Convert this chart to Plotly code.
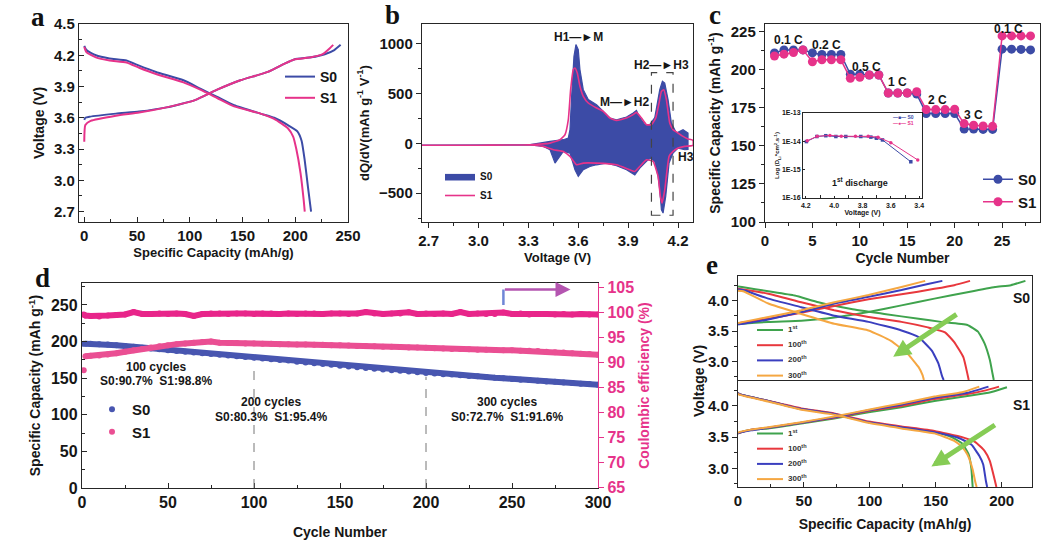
import plotly.graph_objects as go

W, H = 1053, 541
def px(x): return x / W
def py(y): return 1 - y / H

FONT = "Liberation Sans, Arial, sans-serif"
SERIF = "Liberation Serif, Times New Roman, serif"
BLUE = '#3C4BA6'
PINK = '#E6338A'
AXC = '#262626'
TXT = '#161616'
GREEN = '#3FA34D'; RED = '#E8383D'; BLUE2 = '#3A3FBF'; ORANGE = '#F5A742'

# ---------------- panel a : charge/discharge (capacity mAh/g, voltage V)
A_S0_CHG = [(0,3.58),(1,3.60),(5,3.61),(30,3.64),(52,3.66),(78,3.70),(105,3.77),(126,3.87),(148,3.96),(174,4.04),(190,4.12),(199,4.16),(215,4.18),(228,4.21),(237,4.25),(243,4.30)]
A_S1_CHG = [(0,3.37),(1,3.53),(6,3.57),(30,3.62),(52,3.65),(78,3.70),(105,3.77),(126,3.87),(148,3.96),(174,4.04),(190,4.12),(199,4.16),(215,4.18),(226,4.21),(232,4.26),(236,4.30)]
A_S0_DIS = [(0,4.29),(2,4.25),(11,4.20),(24,4.17),(40,4.15),(52,4.10),(68,4.04),(94,3.96),(110,3.88),(126,3.80),(142,3.72),(167,3.64),(180,3.60),(193,3.53),(202,3.47),(206,3.38),(209,3.19),(212,2.94),(215,2.70)]
A_S1_DIS = [(0,4.28),(2,4.23),(11,4.18),(24,4.15),(40,4.13),(52,4.08),(68,4.02),(94,3.94),(110,3.87),(126,3.79),(142,3.71),(167,3.64),(180,3.59),(193,3.50),(198,3.42),(201,3.30),(205,3.07),(208,2.81),(209,2.70)]

# ---------------- panel b : dQ/dV (voltage V, dQ/dV)
B_S0_CHG = [(2.66,-18),(3.0,-18),(3.31,-13),(3.43,20),(3.51,37),(3.54,54),(3.55,138),(3.56,473),(3.574,876),(3.586,993),(3.60,943),(3.61,742),(3.63,540),(3.66,440),(3.71,389),(3.74,339),(3.79,255),(3.83,238),(3.89,265),(3.93,305),(3.95,332),(3.97,259),(4.00,188),(4.03,188),(4.06,259),(4.09,540),(4.106,624),(4.12,607),(4.14,440),(4.16,205),(4.19,104),(4.23,138),(4.26,104)]
B_S0_DIS = [(4.26,-60),(4.24,-64),(4.20,-47),(4.17,-97),(4.146,-198),(4.126,-534),(4.11,-700),(4.10,-668),(4.09,-467),(4.08,-332),(4.06,-181),(4.034,-148),(4.01,-181),(3.97,-248),(3.94,-316),(3.89,-265),(3.83,-225),(3.77,-198),(3.71,-215),(3.67,-232),(3.63,-265),(3.60,-332),(3.58,-265),(3.55,-97),(3.51,-81),(3.48,-148),(3.46,-198),(3.43,-64),(3.39,-30),(3.31,-16),(3.0,-18),(2.66,-18)]
B_S1_CHG = [(2.66,-18),(3.0,-18),(3.31,-13),(3.43,3),(3.49,37),(3.52,87),(3.54,238),(3.554,540),(3.57,742),(3.58,758),(3.594,708),(3.61,574),(3.63,473),(3.66,406),(3.71,356),(3.75,322),(3.79,255),(3.83,231),(3.89,255),(3.93,289),(3.95,312),(3.98,255),(4.01,188),(4.04,188),(4.066,255),(4.086,406),(4.10,523),(4.114,540),(4.13,440),(4.15,205),(4.17,138),(4.20,104),(4.23,70),(4.26,45),(4.29,30)]
B_S1_DIS = [(4.29,-20),(4.24,-30),(4.20,-47),(4.17,-81),(4.146,-131),(4.12,-467),(4.104,-601),(4.094,-534),(4.08,-332),(4.05,-181),(4.01,-165),(3.97,-232),(3.94,-282),(3.91,-265),(3.83,-215),(3.71,-198),(3.63,-198),(3.59,-215),(3.55,-131),(3.51,-81),(3.45,-64),(3.39,-30),(3.31,-16),(3.0,-18),(2.66,-18)]

# ---------------- panel c : rate capability
C_CYCLES = list(range(1, 29))
C_S0 = [211,213,213,213,211,210,210,210,197,197,196.5,196.5,184.7,184.7,184.7,184,171.2,171.2,171.2,171.2,161,161,160.8,160.8,213.5,213.5,213.3,213]
C_S1 = [209,210.2,211.3,213,205.2,206.5,206.5,206.5,194.3,195,196.5,196.5,184.7,184.7,184.7,185.5,173.8,173.8,173.8,174,164.6,163.5,163,162.8,222.2,222.2,222.2,222.2]
C_RATE_LABELS = ['0.1 C','0.2 C','0.5 C','1 C','2 C','3 C','0.1 C']
C_RATE_X = [2.5, 6.5, 10.7, 14, 18.2, 22, 25.7]
C_RATE_Y = [219.6, 216, 202, 192, 180, 170, 226.5]
# inset : Li diffusion coefficient vs voltage (1st discharge)
I_S0_V = [4.196,4.122,4.059,3.988,3.918,3.812,3.741,3.702,3.659,3.459]
I_S0_D = [9.8e-15,1.48e-14,1.58e-14,1.48e-14,1.48e-14,1.48e-14,1.41e-14,1.29e-14,1.12e-14,1.9e-15]
I_S1_V = [4.19,4.12,4.03,3.95,3.85,3.76,3.69,3.60,3.41]
I_S1_D = [1.05e-14,1.5e-14,1.62e-14,1.52e-14,1.5e-14,1.5e-14,1.4e-14,9e-15,2.2e-15]

# ---------------- panel d : long cycling
D_CYCLES = [1, 2] + list(range(5, 301, 5))
D_S0_CAP = [197,197,197,196.5,196,195,194,193,191.5,190.5,
            189.5,188,187,186,185,184,183,182,181,180,
            179,178,177,176,175,174,172.5,171.5,170.5,169.5,
            168.5,167,166,165,164,163,162,161,160,159,
            158,157,156.5,155.5,155,154,153,152.5,151.5,150.5,
            150,149,148,147.5,146.5,145.5,145,144,143.5,142.5,
            142,141]
D_S1_CAP = [161,180,180.5,181,182.5,184,186,188,190,192,
            193.5,195,196.5,197.5,198.5,199.5,200,198.5,198,198,
            197.5,197.5,197,197,196.5,196.5,196,196,195.5,195.5,
            195,195,194.5,194,194,193.5,193,193,192.5,192,
            192,191.5,191,190.5,190,190,189.5,189,189,188.5,
            188,188,187.5,187.5,187,186,185.5,185,184,183.5,
            183,182]
D_S1_CE = [99.5,99.3,99.2,99.1,99.3,99.4,99.5,100.0,99.6,99.6,
           99.7,99.6,99.7,99.6,99.2,99.6,99.7,99.7,99.6,99.7,
           99.7,99.6,99.7,99.7,99.6,99.7,99.6,99.7,99.7,99.6,
           99.7,99.7,99.6,99.7,100.0,99.7,99.6,99.7,99.7,99.95,
           99.6,99.7,99.6,99.7,99.6,100.0,99.6,99.7,99.6,99.6,
           99.9,99.6,99.7,99.5,99.6,99.6,99.5,99.6,99.5,99.6,
           99.5,99.5]

# ---------------- panel e : charge/discharge at cycles 1,100,200,300
E_CYCLE_NAMES = ['1<sup>st</sup>', '100<sup>th</sup>', '200<sup>th</sup>', '300<sup>th</sup>']
E_COLORS = [GREEN, RED, BLUE2, ORANGE]
E_S0_CHG = [
    [(0,3.61),(3,3.62),(23,3.65),(48,3.67),(73,3.72),(99,3.81),(124,3.92),(149,4.03),(175,4.14),(195,4.22),(207,4.25),(218,4.32)],
    [(0,3.62),(3,3.64),(23,3.70),(48,3.80),(73,3.91),(99,4.02),(124,4.10),(149,4.19),(164,4.25),(176,4.32)],
    [(0,3.61),(4,3.62),(23,3.69),(48,3.81),(73,3.95),(99,4.06),(124,4.17),(144,4.27),(155,4.32)],
    [(0,3.63),(4,3.65),(23,3.73),(48,3.84),(73,3.97),(99,4.09),(124,4.22),(142,4.32)],
]
E_S0_DIS = [
    [(0,4.23),(3,4.22),(23,4.15),(43,4.08),(61,3.97),(86,3.86),(111,3.78),(137,3.70),(154,3.65),(174,3.60),(182,3.49),(187,3.30),(191,3.03),(193,2.81),(194,2.70)],
    [(0,4.19),(4,4.18),(23,4.11),(48,3.97),(73,3.84),(99,3.73),(124,3.65),(144,3.56),(157,3.48),(164,3.32),(171,3.07),(174,2.80),(175,2.70)],
    [(0,4.18),(4,4.17),(23,4.03),(48,3.89),(73,3.75),(99,3.65),(124,3.51),(137,3.40),(147,3.18),(152,2.97),(155,2.75),(156,2.70)],
    [(0,4.16),(4,4.15),(23,3.95),(48,3.78),(73,3.62),(99,3.51),(116,3.34),(129,3.12),(137,2.91),(140,2.78),(141,2.70)],
]
E_S1_CHG = [
    [(0,3.56),(1,3.57),(10,3.62),(23,3.64),(48,3.72),(73,3.80),(99,3.90),(124,3.98),(149,4.08),(174,4.16),(190,4.21),(204,4.30)],
    [(0,3.56),(1,3.57),(10,3.62),(23,3.65),(48,3.73),(73,3.81),(99,3.92),(124,4.00),(149,4.11),(174,4.19),(188,4.25),(198,4.31)],
    [(0,3.56),(1,3.57),(10,3.61),(23,3.65),(48,3.73),(73,3.82),(99,3.93),(124,4.02),(149,4.13),(174,4.21),(190,4.31)],
    [(0,3.57),(1,3.58),(10,3.62),(23,3.66),(48,3.74),(73,3.83),(99,3.94),(124,4.04),(149,4.15),(170,4.22),(183,4.31)],
]
E_S1_DIS = [
    [(0,4.21),(1,4.19),(23,4.08),(48,3.95),(73,3.87),(99,3.74),(124,3.66),(149,3.58),(162,3.50),(170,3.40),(175,3.22),(177,3.00),(178,2.70)],
    [(0,4.21),(1,4.19),(23,4.08),(48,3.96),(73,3.88),(99,3.75),(124,3.67),(149,3.60),(170,3.50),(180,3.42),(187,3.28),(191,3.12),(195,2.79),(196,2.70)],
    [(0,4.21),(1,4.19),(23,4.08),(48,3.95),(73,3.87),(99,3.74),(124,3.66),(149,3.58),(167,3.49),(177,3.38),(183,3.20),(186,3.06),(188,2.80),(189,2.70)],
    [(0,4.20),(1,4.18),(23,4.07),(48,3.94),(73,3.86),(99,3.73),(124,3.64),(149,3.56),(164,3.44),(170,3.34),(174,3.22),(178,2.98),(180,2.78),(181,2.70)],
]


def xs(pts): return [p[0] for p in pts]
def ys(pts): return [p[1] for p in pts]


fig = go.Figure()

# ---- a
for name, chg, dis, col in [('S0', A_S0_CHG, A_S0_DIS, BLUE), ('S1', A_S1_CHG, A_S1_DIS, PINK)]:
    fig.add_trace(go.Scatter(x=xs(chg), y=ys(chg), mode='lines', name=name, legend='legend',
                             legendgroup='a' + name, line=dict(color=col, width=2, shape='spline', smoothing=0.5),
                             xaxis='x', yaxis='y'))
    fig.add_trace(go.Scatter(x=xs(dis), y=ys(dis), mode='lines', name=name, showlegend=False,
                             legendgroup='a' + name, line=dict(color=col, width=2, shape='spline', smoothing=0.5),
                             xaxis='x', yaxis='y'))

# ---- b
fig.add_trace(go.Scatter(x=xs(B_S0_CHG) + xs(B_S0_DIS), y=ys(B_S0_CHG) + ys(B_S0_DIS), mode='lines',
                         fill='toself', fillcolor=BLUE, line=dict(color=BLUE, width=1.2),
                         name='S0', legend='legend2', xaxis='x2', yaxis='y2'))
fig.add_trace(go.Scatter(x=xs(B_S1_CHG) + xs(B_S1_DIS), y=ys(B_S1_CHG) + ys(B_S1_DIS), mode='lines',
                         line=dict(color=PINK, width=1.6, shape='spline', smoothing=0.4),
                         name='S1', legend='legend2', xaxis='x2', yaxis='y2'))

# ---- c
fig.add_trace(go.Scatter(x=C_CYCLES, y=C_S0, mode='lines+markers', name='S0', legend='legend3',
                         line=dict(color=BLUE, width=1.5), marker=dict(color=BLUE, size=9),
                         xaxis='x3', yaxis='y3'))
fig.add_trace(go.Scatter(x=C_CYCLES, y=C_S1, mode='lines+markers', name='S1', legend='legend3',
                         line=dict(color=PINK, width=1.5), marker=dict(color=PINK, size=9),
                         xaxis='x3', yaxis='y3'))
fig.add_trace(go.Scatter(x=I_S0_V, y=I_S0_D, mode='lines+markers', showlegend=False, name='S0',
                         line=dict(color=BLUE, width=1), marker=dict(color=BLUE, size=3.5, symbol='square'),
                         xaxis='x4', yaxis='y4'))
fig.add_trace(go.Scatter(x=I_S1_V, y=I_S1_D, mode='lines+markers', showlegend=False, name='S1',
                         line=dict(color=PINK, width=1), marker=dict(color=PINK, size=3.5),
                         xaxis='x4', yaxis='y4'))

# ---- d
fig.add_trace(go.Scatter(x=D_CYCLES[1:], y=D_S0_CAP[1:], mode='lines', showlegend=False,
                         line=dict(color='#4856B0', width=6), xaxis='x5', yaxis='y5'))
fig.add_trace(go.Scatter(x=D_CYCLES, y=D_S0_CAP, mode='markers', name='S0', legend='legend4',
                         marker=dict(color='#4856B0', size=6), xaxis='x5', yaxis='y5'))
fig.add_trace(go.Scatter(x=D_CYCLES[1:], y=D_S1_CAP[1:], mode='lines', showlegend=False,
                         line=dict(color='#EA4F93', width=6), xaxis='x5', yaxis='y5'))
fig.add_trace(go.Scatter(x=D_CYCLES, y=D_S1_CAP, mode='markers', name='S1', legend='legend4',
                         marker=dict(color='#EA4F93', size=6), xaxis='x5', yaxis='y5'))
fig.add_trace(go.Scatter(x=D_CYCLES, y=D_S1_CE, mode='lines+markers', showlegend=False, name='CE',
                         line=dict(color='#E8258A', width=6), marker=dict(color='#E8258A', size=6),
                         xaxis='x5', yaxis='y6'))

# ---- e
for panel, chg_all, dis_all, xa, ya in [('S0', E_S0_CHG, E_S0_DIS, 'x6', 'y7'), ('S1', E_S1_CHG, E_S1_DIS, 'x7', 'y8')]:
    for i in range(4):
        for pts in (chg_all[i], dis_all[i]):
            fig.add_trace(go.Scatter(x=xs(pts), y=ys(pts), mode='lines', showlegend=False,
                                     name=panel + ' ' + E_CYCLE_NAMES[i],
                                     line=dict(color=E_COLORS[i], width=2, shape='spline', smoothing=0.4),
                                     xaxis=xa, yaxis=ya))


def tf(size=15, color=TXT):
    return dict(family=FONT, size=size, color=color, weight='bold')


def axis(domain, anchor, rng, dtick, mdtick, ticks='inside', title=None, tsize=15, standoff=6, title_size=14, **kw):
    d = dict(domain=domain, anchor=anchor, range=rng, dtick=dtick, showline=True, linecolor=AXC,
             linewidth=1.4, mirror=True, ticks=ticks, ticklen=5, tickwidth=1.3, tickcolor=AXC,
             showgrid=False, zeroline=False, tickfont=tf(tsize), automargin=False,
             minor=dict(dtick=mdtick, ticks=ticks, ticklen=3, tickwidth=1, tickcolor=AXC, showgrid=False))
    if title is not None:
        d['title'] = dict(text=title, font=tf(title_size), standoff=standoff)
    d.update(kw)
    return d


lay = dict(
    width=W, height=H, margin=dict(l=0, r=0, t=0, b=0, autoexpand=False), paper_bgcolor='white', plot_bgcolor='white',
    font=dict(family=FONT, color=TXT),
    xaxis=axis([px(79), px(348)], 'y', [-5, 250], 50, 25, title='Specific Capacity (mAh/g)', standoff=4, title_size=13),
    yaxis=axis([py(222), py(24)], 'x', [2.6, 4.5], 0.3, 0.15, title='Voltage (V)', tick0=2.7, tickformat='.1f'),
    xaxis2=axis([px(422), px(693)], 'y2', [2.66, 4.29], 0.3, 0.15, ticks='outside', title='Voltage (V)', tick0=2.7, tickformat='.1f', standoff=4, title_size=13),
    yaxis2=axis([py(222), py(24)], 'x2', [-790, 1200], 500, 250, ticks='outside',
                title='dQ/dV(mAh g<sup>-1</sup> V<sup>-1</sup>)', title_size=13),
    xaxis3=axis([px(765), px(1040)], 'y3', [0, 29], 5, 2.5, ticks='outside', title='Cycle Number', standoff=4),
    yaxis3=axis([py(222), py(24)], 'x3', [100, 230], 25, 12.5, ticks='outside',
                title='Specific Capacity (mAh g<sup>-1</sup>)'),
    xaxis4=axis([px(803), px(922)], 'y4', [4.22, 3.38], 0.2, 0.1, tsize=7, title='Voltage (V)', standoff=1,
                title_size=7, tickformat='.1f', ticklen=2),
    yaxis4=dict(domain=[py(198), py(113)], anchor='x4', type='log', range=[-16, -13], showline=True,
                linecolor=AXC, linewidth=1, mirror=True, ticks='inside', ticklen=2, tickcolor=AXC,
                showgrid=False, zeroline=False, tickfont=tf(7), automargin=False,
                tickvals=[1e-16, 1e-15, 1e-14, 1e-13], ticktext=['1E-16', '1E-15', '1E-14', '1E-13'],
                title=dict(text='Log (D<sub>Li</sub>*cm<sup>2</sup>.s<sup>-1</sup>)', font=tf(6), standoff=1)),
    xaxis5=axis([px(82), px(598)], 'y5', [0, 300], 50, 25, tsize=16, title='Cycle Number', standoff=16),
    yaxis5=axis([py(488), py(283)], 'x5', [0, 280], 50, 25, tsize=16, mirror=False,
                title='Specific Capacity (mAh g<sup>-1</sup>)'),
    yaxis6=dict(overlaying='y5', side='right', anchor='x5', range=[64.8, 105.8], dtick=5, tick0=65,
                showline=True, linecolor=PINK, linewidth=1.4, ticks='outside', ticklen=5, tickcolor=PINK,
                showgrid=False, zeroline=False, tickfont=tf(16, PINK), automargin=False,
                title=dict(text='Coulombic efficiency (%)', font=tf(14, PINK), standoff=6)),
    xaxis6=axis([px(738), px(1032)], 'y7', [0, 223], 50, 25, showticklabels=False, ticks=''),
    yaxis7=axis([py(380), py(276)], 'x6', [2.7, 4.4], 0.5, 0.25, ticks='outside', tickformat='.1f'),
    xaxis7=axis([px(738), px(1032)], 'y8', [0, 223], 50, 25, title='Specific Capacity (mAh/g)', standoff=10),
    yaxis8=axis([py(487), py(381)], 'x7', [2.7, 4.4], 0.5, 0.25, ticks='outside', tickformat='.1f'),
    legend=dict(x=px(280), y=py(61), xanchor='left', yanchor='top', bgcolor='rgba(0,0,0,0)', font=tf(14),
                itemwidth=30, tracegroupgap=0),
    legend2=dict(x=px(440), y=py(162), xanchor='left', yanchor='top', bgcolor='rgba(0,0,0,0)', font=tf(10),
                 itemwidth=30),
    legend3=dict(x=px(978), y=py(163), xanchor='left', yanchor='top', bgcolor='rgba(0,0,0,0)', font=tf(15),
                 itemwidth=30),
    legend4=dict(x=px(92), y=py(393), xanchor='left', yanchor='top', bgcolor='rgba(0,0,0,0)', font=tf(15),
                 itemwidth=30),
)
lay['xaxis6']['minor'] = dict(ticks='')
fig.update_layout(**lay)

ann = []


def note(text, x, y, xref='paper', yref='paper', font=None, xanchor='center', **kw):
    ann.append(dict(text=text, x=x, y=y, xref=xref, yref=yref, showarrow=False, xanchor=xanchor,
                    yanchor='middle', font=font or tf(12), **kw))


# panel labels
for lab, x, y in [('a', 38, 17), ('b', 392, 15), ('c', 715, 15), ('d', 42, 278), ('e', 712, 265)]:
    note(lab, px(x), py(y), font=dict(family=SERIF, size=27, color='#111', weight='bold'))
# b labels
for t, x, y in [('H1\u2014\u25BAM', 3.60, 1065), ('M\u2014\u25BAH2', 3.88, 420), ('H2\u2014\u25BAH3', 4.10, 790), ('H3', 4.245, -135)]:
    note(t, x, y, 'x2', 'y2')
# c rate labels
for t, x, y in zip(C_RATE_LABELS, C_RATE_X, C_RATE_Y):
    note(t, x, y, 'x3', 'y3')
note('1<sup>st</sup> discharge', 3.82, -15.45, 'x4', 'y4', font=tf(9))
note('\u2014\u25A0\u2014 S0', px(916), py(117), font=dict(family=FONT, size=5, color=BLUE, weight='bold'), xanchor='right')
note('\u2014\u25CF\u2014 S1', px(916), py(123), font=dict(family=FONT, size=5, color=PINK, weight='bold'), xanchor='right')
# d texts
for t, x, y in [('100 cycles', 43, 165), ('S0:90.7%  S1:98.8%', 43, 146),
                ('200 cycles', 110, 118), ('S0:80.3%  S1:95.4%', 110, 97),
                ('300 cycles', 247, 118), ('S0:72.7%  S1:91.6%', 247, 97)]:
    note(t, x, y, 'x5', 'y5')
ann.append(dict(text='', x=284, y=104.5, ax=245, ay=104.5, xref='x5', yref='y6', axref='x5', ayref='y6',
                showarrow=True, arrowhead=2, arrowsize=1.2, arrowwidth=2.5, arrowcolor='#B455B0'))
# e texts
note('S0', px(1021), py(298), font=tf(14))
note('S1', px(1021), py(405), font=tf(14))
note('Voltage (V)', px(699), py(381), font=tf(14), textangle=-90)
ann.append(dict(text='', x=117.7, y=3.08, ax=166.9, ay=3.79, xref='x6', yref='y7', axref='x6', ayref='y7',
                showarrow=True, arrowhead=2, arrowsize=0.7, arrowwidth=5, arrowcolor='#86CC55'))
ann.append(dict(text='', x=146.7, y=3.03, ax=196, ay=3.71, xref='x7', yref='y8', axref='x7', ayref='y8',
                showarrow=True, arrowhead=2, arrowsize=0.7, arrowwidth=5, arrowcolor='#86CC55'))
shapes = []
# manual legends for e
for base_y in (330, 433.5):
    for i, (nm, col) in enumerate(zip(E_CYCLE_NAMES, E_COLORS)):
        yy = base_y + i * 15.2
        shapes.append(dict(type='line', xref='paper', yref='paper', x0=px(757), x1=px(783), y0=py(yy), y1=py(yy),
                           line=dict(color=col, width=2)))
        note(nm, px(786), py(yy - 1), font=tf(8, '#333'), xanchor='left')
# dashed box in b
shapes.append(dict(type='rect', xref='x2', yref='y2', x0=4.04, x1=4.17, y0=-722, y1=711,
                   line=dict(color='#444', width=1.2, dash='dash')))
# dashed markers in d
shapes.append(dict(type='line', xref='x5', yref='y5', x0=100, x1=100, y0=0, y1=172, line=dict(color='#777', width=1, dash='dash')))
shapes.append(dict(type='line', xref='x5', yref='y5', x0=200, x1=200, y0=0, y1=152, line=dict(color='#777', width=1, dash='dash')))
shapes.append(dict(type='line', xref='x5', yref='y6', x0=245, x1=245, y0=101.4, y1=104.5, line=dict(color='#6F86D6', width=2.5)))

fig.update_layout(annotations=ann, shapes=shapes)
fig.write_html('out.html', config={'displayModeBar': False},
               post_script="document.body.style.margin='0';document.body.style.overflow='hidden';")
